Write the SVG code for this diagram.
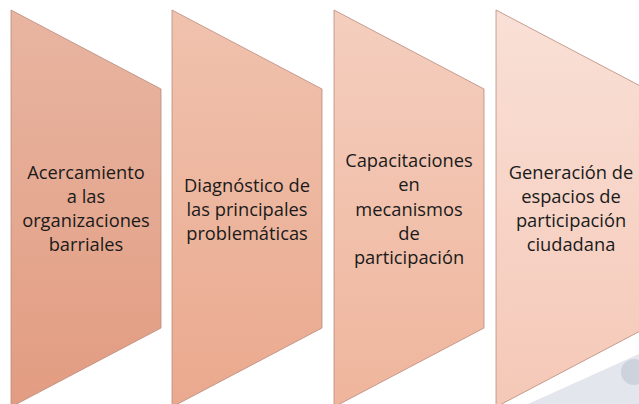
<svg xmlns="http://www.w3.org/2000/svg" width="639" height="404" viewBox="0 0 639 404">
  <defs>
    <linearGradient id="g1" x1="0" y1="0" x2="0" y2="1">
      <stop offset="0" stop-color="#E8B5A1"/>
      <stop offset="1" stop-color="#E29C81"/>
    </linearGradient>
    <linearGradient id="g2" x1="0" y1="0" x2="0" y2="1">
      <stop offset="0" stop-color="#F0C2AE"/>
      <stop offset="1" stop-color="#EAA98E"/>
    </linearGradient>
    <linearGradient id="g3" x1="0" y1="0" x2="0" y2="1">
      <stop offset="0" stop-color="#F4CEBE"/>
      <stop offset="1" stop-color="#EFB59C"/>
    </linearGradient>
    <linearGradient id="g4" x1="0" y1="0" x2="0" y2="1">
      <stop offset="0" stop-color="#F9E0D6"/>
      <stop offset="1" stop-color="#F5C8B7"/>
    </linearGradient>
  </defs>
  <style>
    .shape { stroke: #B98A7C; stroke-width: 0.8; }
    .label { font-family: "Open Sans", "Noto Sans", sans-serif; font-size: 18.3px; fill: #1a1a1a; text-anchor: middle; }
  </style>
  <rect width="639" height="404" fill="#FFFFFF"/>
  <g id="decoration">
    <polygon points="528,404 639,354 639,404" fill="#E3E6EC"/>
    <circle cx="634" cy="372" r="13" fill="#CDD3DD"/>
  </g>
  <g id="connectors"></g>
  <g id="node1">
    <polygon class="shape" fill="url(#g1)" points="11,10 161,89 161,328 11,407"/>
    <text class="label" x="86"><tspan x="86" y="179">Acercamiento</tspan><tspan x="86" y="203">a las</tspan><tspan x="86" y="227">organizaciones</tspan><tspan x="86" y="251">barriales</tspan></text>
  </g>
  <g id="node2">
    <polygon class="shape" fill="url(#g2)" points="172,10 322,89 322,328 172,407"/>
    <text class="label" x="247"><tspan x="247" y="192">Diagnóstico de</tspan><tspan x="247" y="216">las principales</tspan><tspan x="247" y="240">problemáticas</tspan></text>
  </g>
  <g id="node3">
    <polygon class="shape" fill="url(#g3)" points="334,10 484,89 484,328 334,407"/>
    <text class="label" x="409"><tspan x="409" y="167">Capacitaciones</tspan><tspan x="409" y="191">en</tspan><tspan x="409" y="216">mecanismos</tspan><tspan x="409" y="240">de</tspan><tspan x="409" y="264">participación</tspan></text>
  </g>
  <g id="node4">
    <polygon class="shape" fill="url(#g4)" points="496,10 646,89 646,328 496,407"/>
    <text class="label" x="571"><tspan x="571" y="179">Generación de</tspan><tspan x="571" y="203">espacios de</tspan><tspan x="571" y="227">participación</tspan><tspan x="571" y="251">ciudadana</tspan></text>
  </g>
</svg>
